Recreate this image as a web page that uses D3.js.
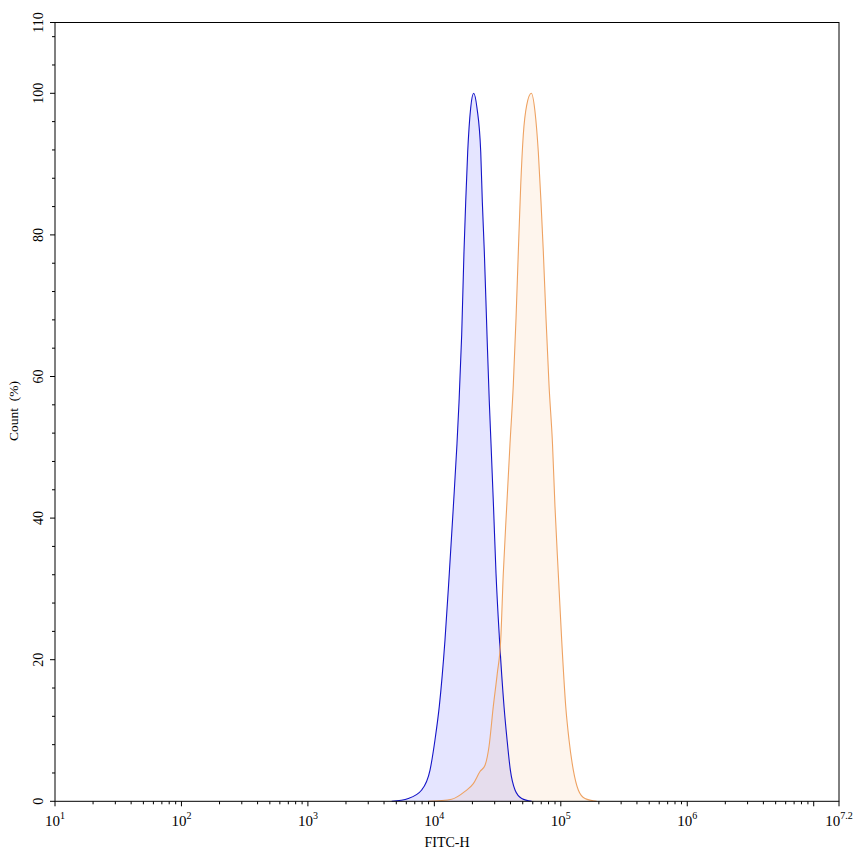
<!DOCTYPE html>
<html>
<head>
  <script src="https://d3js.org/d3.v7.min.js"></script>
  <style>
    body { margin: 0; background: #fff; }
    text { font-family: "Liberation Serif", "DejaVu Serif", serif; fill: #000; }
  </style>
</head>
<body>
<script>
  // blue histogram (FITC-H value, count %)
  var blueX = [4600, 6220, 7940, 9240, 10120, 10940, 12140, 13130, 14130, 15100, 15670, 16450, 17150, 17700, 18350, 19370, 20470,
               21740, 23270, 23950, 24840, 26080, 27200, 28060, 29370, 30730, 32760, 35560, 37580, 39910, 43450, 49090, 58880];
  var blueY = [0, 0.4, 1.6, 4.4, 8.7, 13.4, 22.8, 32.2, 41.6, 50.5, 56.4, 65.9, 77.6, 84.7, 91.7, 97.9, 100,
               97.9, 91.7, 84.7, 77.6, 65.9, 56.4, 50.5, 41.6, 32.2, 22.8, 13.4, 8.7, 4.4, 1.6, 0.4, 0];

  // orange histogram
  var orangeX = [8960, 13710, 17460, 20330, 22960, 25160, 27040, 29250, 31470, 33480, 35100, 37330, 39650, 42100, 44240, 46130, 48190, 50490, 53700, 58480,
                 62520, 66400, 69700, 72740, 76390, 80690, 85950, 89950, 95500, 101600, 109400, 116100, 125600, 137500, 155300, 192300];
  var orangeY = [0, 0.3, 1.4, 2.5, 4.2, 5.1, 7.7, 13.4, 18.1, 22.8, 32.2, 41.6, 50.5, 58.8, 68.2, 77.6, 87, 94.1, 98.3, 100,
                 97.4, 91.7, 84.7, 77.6, 68.2, 58.8, 50.5, 41.6, 32.2, 22.8, 13.4, 8.7, 4.4, 1.6, 0.4, 0];

  var xTickExps = [1, 2, 3, 4, 5, 6, 7.2];
  var yTicks = [0, 20, 40, 60, 80, 100, 110];

  var width = 853, height = 856;
  var padL = 55, padR = 839, padT = 22.5, padB = 801.3;

  var svg = d3.select("body").append("svg")
    .attr("width", width)
    .attr("height", height);

  var x = d3.scaleLog().domain([10, Math.pow(10, 7.2)]).range([padL, padR]);
  var y = d3.scaleLinear().domain([0, 110]).range([padB, padT]);

  function pts(xs, ys) {
    return xs.map(function (v, i) { return [v, ys[i]]; });
  }

  var area = d3.area()
    .x(function (d) { return x(d[0]); })
    .y0(y(0))
    .y1(function (d) { return y(d[1]); })
    .curve(d3.curveMonotoneX);
  var line = d3.line()
    .x(function (d) { return x(d[0]); })
    .y(function (d) { return y(d[1]); })
    .curve(d3.curveMonotoneX);

  var blue = pts(blueX, blueY), orange = pts(orangeX, orangeY);

  svg.append("path").attr("d", area(blue)).attr("fill", "rgba(0,0,255,0.1)");
  svg.append("path").attr("d", area(orange)).attr("fill", "rgba(240,140,50,0.09)");
  svg.append("path").attr("d", line(blue)).attr("fill", "none").attr("stroke", "#1414c8").attr("stroke-width", 1.1);
  svg.append("path").attr("d", line(orange)).attr("fill", "none").attr("stroke", "#eea262").attr("stroke-width", 1.1);

  // frame
  svg.append("rect")
    .attr("x", padL).attr("y", padT)
    .attr("width", padR - padL).attr("height", padB - padT)
    .attr("fill", "none").attr("stroke", "#000").attr("stroke-width", 1);

  // x ticks
  var minor = [];
  for (var k = 1; k <= 6; k++) {
    for (var m = 2; m <= 9; m++) minor.push(m * Math.pow(10, k));
  }
  svg.selectAll(".xminor").data(minor).enter().append("line")
    .attr("x1", function (d) { return x(d); }).attr("x2", function (d) { return x(d); })
    .attr("y1", padB).attr("y2", padB + 3)
    .attr("stroke", "#000").attr("stroke-width", 1);
  var xMajor = [1, 2, 3, 4, 5, 6, 7, 7.2];
  svg.selectAll(".xmajor").data(xMajor).enter().append("line")
    .attr("x1", function (d) { return x(Math.pow(10, d)); }).attr("x2", function (d) { return x(Math.pow(10, d)); })
    .attr("y1", padB).attr("y2", padB + 5)
    .attr("stroke", "#000").attr("stroke-width", 1);

  var xl = svg.selectAll(".xlab").data(xTickExps).enter().append("text")
    .attr("x", function (d) { return x(Math.pow(10, d)); })
    .attr("y", 826)
    .attr("text-anchor", "middle")
    .style("font-size", "15px");
  xl.append("tspan").text("10");
  xl.append("tspan").attr("dy", -7).style("font-size", "10px").text(function (d) { return d; });

  // y ticks
  var yMinor = d3.range(0, 111, 4).filter(function (v) { return v % 20 !== 0; });
  svg.selectAll(".yminor").data(yMinor).enter().append("line")
    .attr("x1", padL - 3).attr("x2", padL)
    .attr("y1", function (d) { return y(d); }).attr("y2", function (d) { return y(d); })
    .attr("stroke", "#000").attr("stroke-width", 1);
  svg.selectAll(".ymajor").data(yTicks).enter().append("line")
    .attr("x1", padL - 5).attr("x2", padL)
    .attr("y1", function (d) { return y(d); }).attr("y2", function (d) { return y(d); })
    .attr("stroke", "#000").attr("stroke-width", 1);
  svg.selectAll(".ylab").data(yTicks).enter().append("text")
    .attr("transform", function (d) { return "translate(43," + y(d) + ") rotate(-90)"; })
    .attr("text-anchor", "middle")
    .style("font-size", "14px")
    .text(function (d) { return d; });

  // axis titles
  svg.append("text")
    .attr("x", 447).attr("y", 847)
    .attr("text-anchor", "middle")
    .style("font-size", "14px")
    .text("FITC-H");
  svg.append("text")
    .attr("transform", "translate(18,411) rotate(-90)")
    .attr("text-anchor", "middle")
    .style("font-size", "13.5px")
    .style("white-space", "pre")
    .text("Count  (%)");
</script>
</body>
</html>
